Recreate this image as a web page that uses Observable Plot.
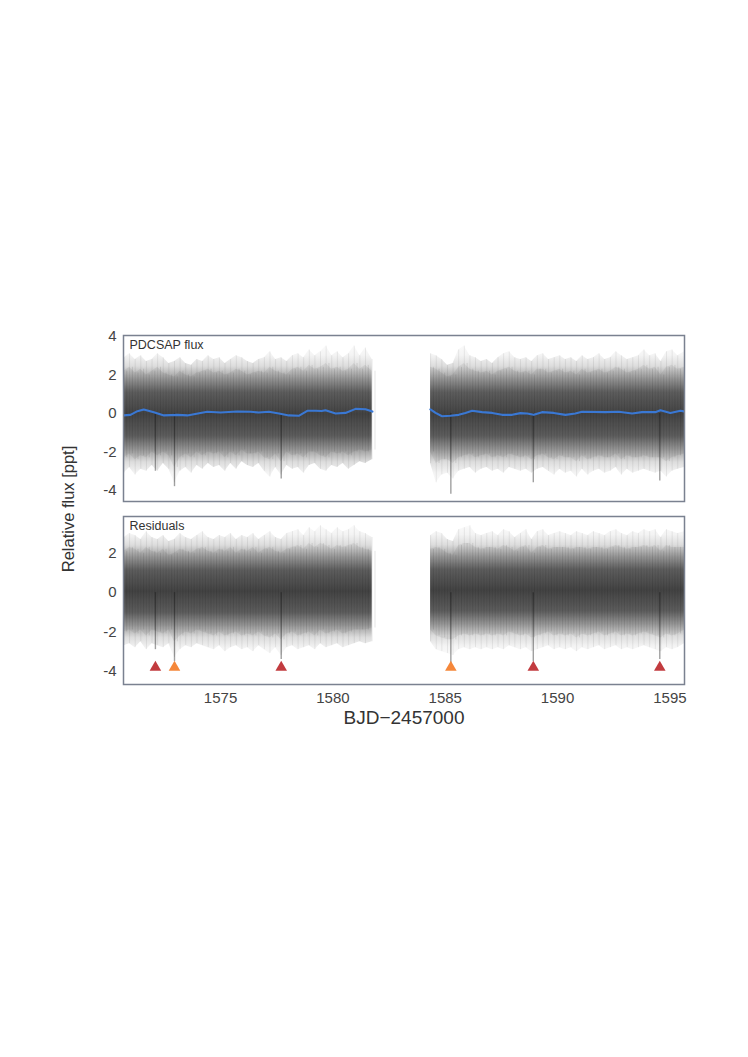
<!DOCTYPE html>
<html><head><meta charset="utf-8">
<script src="https://cdn.jsdelivr.net/npm/d3@7"></script>
<script src="https://cdn.jsdelivr.net/npm/@observablehq/plot@0.6"></script>
<style>
body{margin:0;background:#fff;font-family:"Liberation Sans",Arial,sans-serif;}
#wrap{position:relative;width:748px;height:1057px;overflow:hidden;}
.panel{position:absolute;left:0;}
#ylab{position:absolute;left:68px;top:509px;transform:translate(-50%,-50%) rotate(-90deg);font-size:16.5px;color:#333;white-space:nowrap;}
#xlab{position:absolute;left:404px;top:718px;transform:translate(-50%,-50%);font-size:19px;color:#333;white-space:nowrap;}
</style></head><body>
<div id="wrap">
  <div id="p1" class="panel" style="top:325px"></div>
  <div id="p2" class="panel" style="top:506px"></div>
  <div id="ylab">Relative flux [ppt]</div>
  <div id="xlab">BJD−2457000</div>
</div>
<script>
// ---- time grids (BJD-2457000) ----
const seg1T = [1570.70,1570.95,1571.20,1571.45,1571.70,1571.95,1572.20,1572.45,1572.70,1572.95,1573.20,1573.45,1573.70,1573.95,1574.20,1574.45,1574.70,1574.95,1575.20,1575.45,1575.70,1575.95,1576.20,1576.45,1576.70,1576.95,1577.20,1577.45,1577.70,1577.95,1578.20,1578.45,1578.70,1578.95,1579.20,1579.45,1579.70,1579.95,1580.20,1580.45,1580.70,1580.95,1581.20,1581.45,1581.75];
const seg2T = [1584.35,1584.60,1584.85,1585.10,1585.35,1585.60,1585.85,1586.10,1586.35,1586.60,1586.85,1587.10,1587.35,1587.60,1587.85,1588.10,1588.35,1588.60,1588.85,1589.10,1589.35,1589.60,1589.85,1590.10,1590.35,1590.60,1590.85,1591.10,1591.35,1591.60,1591.85,1592.10,1592.35,1592.60,1592.85,1593.10,1593.35,1593.60,1593.85,1594.10,1594.35,1594.60,1594.85,1595.10,1595.35,1595.65];

// ---- PDCSAP flux envelopes (ppt) ----
const fluxHi1 = [2.9,3.1,2.8,3.0,2.7,2.8,3.1,2.9,2.6,2.7,2.9,2.6,2.5,2.8,2.7,3.0,2.8,2.9,2.6,2.8,3.0,2.9,2.7,2.6,2.8,2.9,3.2,2.8,2.9,2.7,3.0,3.1,2.9,3.3,3.0,3.2,3.5,3.0,3.2,2.9,3.1,3.5,3.0,3.4,2.8];
const fluxLo1 = [-3.1,-2.8,-3.2,-2.9,-3.0,-2.7,-3.0,-2.6,-2.9,-3.6,-3.0,-2.8,-3.1,-2.7,-2.9,-2.6,-2.8,-2.7,-3.0,-2.6,-2.9,-2.5,-2.7,-2.8,-2.6,-3.0,-3.3,-2.8,-3.2,-2.7,-2.9,-2.8,-3.1,-2.7,-2.6,-2.9,-3.0,-2.7,-2.8,-2.6,-2.9,-2.7,-2.5,-2.6,-2.4];
const fluxMidHi1 = [2.2,2.4,2.1,2.3,2.0,2.2,2.4,2.1,2.0,1.9,2.2,2.0,1.9,2.1,2.2,2.3,2.1,2.2,2.0,2.1,2.3,2.2,2.0,2.1,2.2,2.1,2.4,2.2,2.1,2.0,2.3,2.4,2.2,2.5,2.3,2.4,2.6,2.3,2.4,2.2,2.3,2.6,2.3,2.5,2.2];
const fluxMidLo1 = [-2.3,-2.1,-2.4,-2.2,-2.3,-2.0,-2.2,-2.0,-2.2,-2.8,-2.3,-2.1,-2.3,-2.0,-2.2,-2.0,-2.1,-2.0,-2.3,-2.0,-2.2,-1.9,-2.1,-2.1,-2.0,-2.3,-2.4,-2.1,-2.5,-2.0,-2.2,-2.1,-2.3,-2.0,-2.0,-2.2,-2.3,-2.0,-2.1,-2.0,-2.2,-2.0,-1.9,-2.0,-1.9];
const fluxHi2 = [3.1,3.0,2.8,2.5,2.6,3.3,3.5,3.0,2.9,2.7,2.8,2.6,2.9,3.1,3.2,2.9,2.8,2.9,2.7,3.0,3.1,2.8,2.9,3.0,2.8,2.9,2.7,3.0,2.8,2.9,3.1,2.8,2.9,3.2,3.0,2.8,2.9,3.0,3.3,3.0,3.1,2.7,3.2,3.3,3.0,3.2];
const fluxLo2 = [-2.6,-3.6,-3.2,-3.1,-3.4,-3.0,-2.9,-2.8,-3.1,-2.9,-2.8,-3.0,-2.9,-3.1,-2.8,-2.9,-3.0,-2.9,-3.1,-2.9,-2.8,-3.0,-3.2,-2.9,-3.1,-3.0,-3.3,-2.9,-3.2,-3.0,-2.9,-3.1,-3.0,-2.8,-3.2,-2.9,-3.1,-3.0,-2.9,-3.0,-3.1,-3.0,-3.3,-3.0,-2.9,-2.8];
const fluxMidHi2 = [2.4,2.3,2.1,1.9,2.0,2.4,2.6,2.3,2.2,2.1,2.2,2.0,2.2,2.3,2.4,2.2,2.1,2.2,2.0,2.3,2.3,2.1,2.2,2.3,2.1,2.2,2.0,2.3,2.1,2.2,2.3,2.1,2.2,2.4,2.3,2.1,2.2,2.3,2.5,2.3,2.4,2.0,2.4,2.5,2.3,2.4];
const fluxMidLo2 = [-2.0,-2.6,-2.4,-2.4,-2.6,-2.3,-2.2,-2.1,-2.3,-2.2,-2.1,-2.3,-2.2,-2.3,-2.1,-2.2,-2.3,-2.2,-2.4,-2.2,-2.1,-2.3,-2.4,-2.2,-2.3,-2.3,-2.5,-2.2,-2.4,-2.3,-2.2,-2.3,-2.3,-2.1,-2.4,-2.2,-2.3,-2.3,-2.2,-2.3,-2.3,-2.3,-2.5,-2.3,-2.2,-2.1];

// ---- Residual envelopes (ppt) ----
const resHi1 = [2.8,3.0,2.9,2.7,3.1,2.8,2.7,2.9,2.6,2.7,3.0,2.8,2.7,2.9,3.1,2.8,2.7,2.9,2.8,3.0,2.7,2.9,2.8,3.0,2.7,2.9,3.1,2.8,2.7,3.0,3.1,3.2,2.9,3.3,3.1,3.4,3.2,3.0,3.3,3.1,3.2,3.4,3.1,3.0,2.8];
const resLo1 = [-2.7,-2.6,-2.8,-2.5,-2.9,-2.6,-2.7,-2.8,-2.6,-3.3,-2.9,-2.7,-2.8,-2.6,-2.7,-2.8,-2.9,-2.7,-3.0,-2.8,-2.7,-2.9,-2.8,-3.0,-2.7,-2.9,-3.1,-2.8,-3.2,-2.8,-2.7,-2.9,-2.8,-2.7,-2.9,-2.6,-2.8,-2.7,-2.6,-2.8,-2.7,-2.6,-2.5,-2.6,-2.5];
const resMidHi1 = [2.1,2.3,2.2,2.0,2.3,2.1,2.0,2.2,1.9,2.0,2.2,2.1,2.0,2.2,2.3,2.1,2.0,2.2,2.1,2.3,2.0,2.2,2.1,2.3,2.0,2.2,2.3,2.1,2.0,2.2,2.3,2.4,2.2,2.5,2.3,2.5,2.4,2.2,2.4,2.3,2.4,2.5,2.3,2.2,2.1];
const resMidLo1 = [-2.0,-1.9,-2.1,-1.9,-2.2,-1.9,-2.0,-2.1,-1.9,-2.5,-2.2,-2.0,-2.1,-1.9,-2.0,-2.1,-2.2,-2.0,-2.2,-2.1,-2.0,-2.2,-2.1,-2.2,-2.0,-2.2,-2.3,-2.1,-2.4,-2.1,-2.0,-2.2,-2.1,-2.0,-2.2,-1.9,-2.1,-2.0,-1.9,-2.1,-2.0,-1.9,-1.9,-1.9,-1.8];
const resHi2 = [2.9,3.1,3.0,2.7,2.6,3.2,3.3,3.4,3.0,2.9,3.0,3.1,2.9,3.2,3.1,2.8,3.0,3.2,2.7,3.1,3.2,2.9,3.0,3.1,3.0,2.9,3.1,3.0,2.9,3.1,3.0,2.9,3.1,3.2,3.0,2.9,3.1,3.0,3.2,3.1,3.2,2.8,3.2,3.1,3.0,3.1];
const resLo2 = [-2.5,-2.9,-3.0,-3.1,-3.2,-2.9,-2.8,-2.9,-2.8,-2.9,-2.8,-2.9,-2.8,-2.9,-2.7,-2.8,-2.9,-2.8,-3.0,-2.9,-2.8,-2.7,-2.9,-2.8,-2.9,-2.8,-3.0,-2.8,-2.9,-2.8,-2.7,-2.9,-2.8,-2.7,-2.9,-2.8,-2.9,-2.8,-2.7,-2.8,-2.9,-3.0,-2.8,-2.9,-2.8,-2.6];
const resMidHi2 = [2.2,2.3,2.2,2.0,1.9,2.4,2.5,2.5,2.3,2.2,2.3,2.3,2.2,2.4,2.3,2.1,2.3,2.4,2.0,2.3,2.4,2.2,2.3,2.3,2.3,2.2,2.3,2.3,2.2,2.3,2.3,2.2,2.3,2.4,2.3,2.2,2.3,2.3,2.4,2.3,2.4,2.1,2.4,2.3,2.3,2.3];
const resMidLo2 = [-1.9,-2.2,-2.3,-2.4,-2.4,-2.2,-2.1,-2.2,-2.1,-2.2,-2.1,-2.2,-2.1,-2.2,-2.0,-2.1,-2.2,-2.1,-2.3,-2.2,-2.1,-2.0,-2.2,-2.1,-2.2,-2.1,-2.3,-2.1,-2.2,-2.1,-2.0,-2.2,-2.1,-2.0,-2.2,-2.1,-2.2,-2.1,-2.0,-2.1,-2.2,-2.3,-2.1,-2.2,-2.1,-1.9];

// ---- GP / model curve on PDCSAP flux ----
const model1T = [1570.68,1570.99,1571.30,1571.58,1572.03,1572.48,1573.07,1573.52,1574.11,1574.41,1575.00,1575.74,1576.33,1576.70,1577.15,1577.60,1578.04,1578.48,1578.86,1579.23,1579.50,1579.67,1580.12,1580.56,1581.01,1581.45,1581.76];
const model1V = [-0.10,-0.07,0.12,0.21,0.07,-0.10,-0.07,-0.10,0.03,0.09,0.05,0.10,0.09,0.05,0.09,0.00,-0.10,-0.12,0.14,0.14,0.13,0.17,0.00,0.03,0.24,0.22,0.10];
const model2T = [1584.34,1584.57,1584.86,1585.23,1585.60,1585.90,1586.20,1586.64,1587.09,1587.53,1587.98,1588.35,1588.65,1588.94,1589.31,1589.83,1590.35,1590.79,1591.09,1592.13,1592.72,1593.32,1593.76,1594.35,1594.58,1595.02,1595.47,1595.69];
const model2V = [0.21,0.03,-0.14,-0.12,-0.07,0.03,0.14,0.07,0.03,-0.07,-0.07,0.02,0.00,-0.07,0.07,0.03,-0.07,0.00,0.09,0.07,0.09,0.00,0.07,0.07,0.17,0.03,0.14,0.10];

// ---- transits ----
const transitT = [1572.10, 1572.95, 1577.70, 1585.25, 1588.92, 1594.55];
const transitPlanet = ["b", "c", "b", "c", "b", "b"];
const fluxDipLo = [-3.0, -3.8, -3.4, -4.2, -3.6, -3.5];
const resDipLo = [-2.9, -3.5, -3.4, -3.6, -3.5, -3.4];
const markerLevel = -3.8;
const planetColor = {b: "#c23b3f", c: "#f5873a"};

// ---- ticks ----
const xTicks = [1575, 1580, 1585, 1590, 1595];
const fluxTicks = [4, 2, 0, -2, -4];
const resTicks = [2, 0, -2, -4];

// ---- tables ----
function envRows(segs) {
  const rows = [];
  segs.forEach(([T, hi, lo, mhi, mlo], s) => T.forEach((t, i) => rows.push({seg: s, t, hi: hi[i], lo: lo[i], mhi: mhi[i], mlo: mlo[i]})));
  return rows;
}
const fluxRows = envRows([[seg1T, fluxHi1, fluxLo1, fluxMidHi1, fluxMidLo1], [seg2T, fluxHi2, fluxLo2, fluxMidHi2, fluxMidLo2]]);
const resRows = envRows([[seg1T, resHi1, resLo1, resMidHi1, resMidLo1], [seg2T, resHi2, resLo2, resMidHi2, resMidLo2]]);
const modelRows = [...model1T.map((t, i) => ({seg: 0, t, v: model1V[i]})), ...model2T.map((t, i) => ({seg: 1, t, v: model2V[i]}))];
const transits = transitT.map((t, i) => ({t, planet: transitPlanet[i], fluxLo: fluxDipLo[i], resLo: resDipLo[i]}));

const xDomain = [1570.68, 1595.65];
const font = '"Liberation Sans", Arial, sans-serif';

// density shading: dense core, fading to faint extremes
const gradStops = [[0,0.02],[0.07,0.05],[0.15,0.15],[0.24,0.42],[0.34,0.68],[0.5,0.8],[0.66,0.68],[0.76,0.42],[0.85,0.15],[0.93,0.05],[1,0.02]];
function addGradient(svgNode, id) {
  const defs = d3.select(svgNode).insert("defs", ":first-child");
  const g = defs.append("linearGradient").attr("id", id).attr("x1", 0).attr("y1", 0).attr("x2", 0).attr("y2", 1);
  gradStops.forEach(([o, a]) => g.append("stop").attr("offset", o).attr("stop-color", "#1a1a1a").attr("stop-opacity", a));
}

function noiseMarks(rows, gid) {
  return [
    Plot.areaY(rows, {x: "t", y1: "lo", y2: "hi", z: "seg", fill: `url(#${gid})`, curve: "linear", clip: true}),
    Plot.areaY(rows, {x: "t", y1: "mlo", y2: "mhi", z: "seg", fill: "#000", fillOpacity: 0.06, curve: "linear", clip: true}),
    Plot.ruleX(rows, {x: "t", y1: "lo", y2: "hi", stroke: "#000", strokeOpacity: 0.07, strokeWidth: 1, clip: true}),
    Plot.ruleX(rows, {x: "t", y1: "mlo", y2: "mhi", dx: 2.8, stroke: "#000", strokeOpacity: 0.1, strokeWidth: 1, clip: true})
  ];
}

const p1 = Plot.plot({
  width: 748, height: 180,
  marginLeft: 123, marginRight: 64, marginTop: 10, marginBottom: 4,
  style: {fontFamily: font, fontSize: "15px", color: "#444", background: "transparent"},
  x: {domain: xDomain, axis: null},
  y: {domain: [-4.57, 4.05]},
  marks: [
    ...noiseMarks(fluxRows, "g1"),
    Plot.ruleX(transits, {x: "t", y1: "fluxLo", y2: 0, stroke: "#111", strokeOpacity: 0.4, strokeWidth: 1.4, clip: true}),
    Plot.line(modelRows, {x: "t", y: "v", z: "seg", stroke: "#3a78d4", strokeWidth: 2.1, clip: true}),
    Plot.axisY({ticks: fluxTicks, tickSize: 0, tickPadding: 7, tickFormat: d => String(d), label: null, fontSize: 15}),
    Plot.text(["PDCSAP flux"], {frameAnchor: "top-left", dx: 6, dy: 5, textAnchor: "start", lineAnchor: "top", fontSize: 12.5, fill: "#333"}),
    Plot.frame({stroke: "#7a8190", strokeWidth: 1.5})
  ]
});
addGradient(p1, "g1");
document.getElementById("p1").append(p1);

const p2 = Plot.plot({
  width: 748, height: 228,
  marginLeft: 123, marginRight: 64, marginTop: 10, marginBottom: 50,
  style: {fontFamily: font, fontSize: "15px", color: "#444", background: "transparent"},
  x: {domain: xDomain},
  y: {domain: [-4.67, 3.87]},
  marks: [
    ...noiseMarks(resRows, "g2"),
    Plot.ruleX(transits, {x: "t", y1: "resLo", y2: 0, stroke: "#111", strokeOpacity: 0.4, strokeWidth: 1.4, clip: true}),
    Plot.dot(transits, {x: "t", y: () => markerLevel, symbol: "triangle", r: 4.3, fill: d => planetColor[d.planet], stroke: "none"}),
    Plot.axisY({ticks: resTicks, tickSize: 0, tickPadding: 7, tickFormat: d => String(d), label: null, fontSize: 15}),
    Plot.axisX({ticks: xTicks, tickSize: 0, tickPadding: 8, tickFormat: d => String(d), label: null, fontSize: 15}),
    Plot.text(["Residuals"], {frameAnchor: "top-left", dx: 6, dy: 5, textAnchor: "start", lineAnchor: "top", fontSize: 12.5, fill: "#333"}),
    Plot.frame({stroke: "#7a8190", strokeWidth: 1.5})
  ]
});
addGradient(p2, "g2");
document.getElementById("p2").append(p2);
</script>
</body></html>
